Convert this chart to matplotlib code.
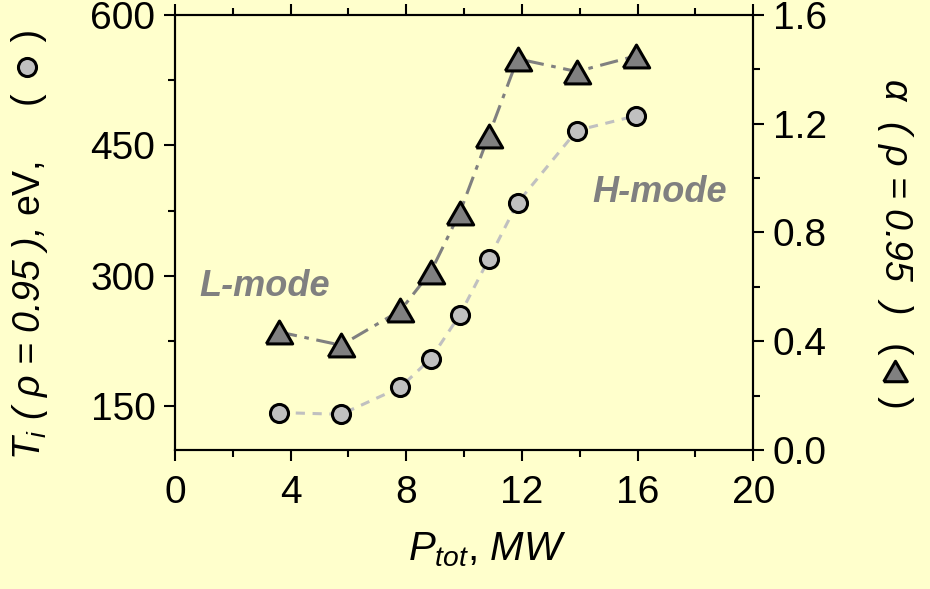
import numpy as np
import matplotlib
matplotlib.use("Agg")
import matplotlib.pyplot as plt
from matplotlib.ticker import MultipleLocator, FormatStrFormatter

plt.rcParams['font.family'] = ['Liberation Sans', 'DejaVu Sans']
plt.rcParams['mathtext.fontset'] = 'custom'
plt.rcParams['mathtext.rm'] = 'Liberation Sans'
plt.rcParams['mathtext.it'] = 'Liberation Sans:italic'
plt.rcParams['mathtext.bf'] = 'Liberation Sans:bold'

# heating power, MW
p_tot = [3.6, 5.75, 7.8, 8.85, 9.85, 10.85, 11.85, 13.9, 15.95]
# ion temperature at rho = 0.95, eV
t_i = [143, 141, 172, 205, 255, 319, 384, 467, 484]
# alpha at rho = 0.95
alpha = [0.434, 0.385, 0.513, 0.655, 0.872, 1.155, 1.438, 1.391, 1.449]

bg = '#ffffcc'
# equilateral triangle marker
tri = [(-1, -0.866), (1, -0.866), (0, 0.866), (-1, -0.866)]

fig = plt.figure(figsize=(9.3, 5.89), dpi=100, facecolor=bg)
ax = fig.add_axes([0.188, 0.236, 0.622, 0.739])
ax.set_facecolor(bg)
ax2 = ax.twinx()

ax.plot(p_tot, t_i, linestyle=(0, (3, 2.5)), color='#c0c0c0', lw=2.2,
        marker='o', ms=13, mfc='#c0c0c0', mec='black', mew=2.2, clip_on=False)
ax2.plot(p_tot, alpha, linestyle=(0, (6, 2.5, 1.5, 2.5)), color='#808080', lw=2.2,
         marker=tri, ms=19, mfc='#808080', mec='black', mew=2.2, clip_on=False)

ax.set_xlim(0, 20)
ax.set_ylim(100, 600)
ax2.set_ylim(0, 1.6)

ax.xaxis.set_major_locator(MultipleLocator(4))
ax.xaxis.set_minor_locator(MultipleLocator(2))
ax.yaxis.set_major_locator(MultipleLocator(150))
ax.yaxis.set_minor_locator(MultipleLocator(75))
ax2.yaxis.set_major_locator(MultipleLocator(0.4))
ax2.yaxis.set_minor_locator(MultipleLocator(0.2))
ax2.yaxis.set_major_formatter(FormatStrFormatter('%.1f'))

for a in (ax, ax2):
    for s in a.spines.values():
        s.set_linewidth(1.5)
ax.tick_params(which='both', direction='out', top=True, width=1.5,
               labelsize=28, pad=6)
ax.tick_params(axis='x', pad=10)
ax.tick_params(which='major', length=8)
ax.tick_params(which='minor', length=5)
ax2.tick_params(which='both', direction='out', width=1.5, labelsize=28, pad=6)
ax2.tick_params(which='major', length=8)
ax2.tick_params(which='minor', length=5)

ax.set_xlabel(r'$P_{tot}$, $MW$', fontsize=29, labelpad=14)
ax.xaxis.label.set_x(0.54)

ax.text(3.1, 288, 'L-mode', fontsize=26, fontweight='bold', style='italic',
        color='#808080', ha='center', va='center')
ax.text(16.75, 396, 'H-mode', fontsize=26, fontweight='bold', style='italic',
        color='#808080', ha='center', va='center')

# axis titles
fig.text(0.032, 0.219, r'$T_i$ ( $\rho$ = 0.95 ), $\mathrm{eV,}$', style='italic',
         rotation=90, fontsize=27, ha='center', va='bottom')
fig.text(0.962, 0.868, r'$\alpha$  ( $\rho$ = 0.95  )', style='italic',
         rotation=270, fontsize=27, ha='center', va='top')

# series symbols next to the titles
fig.text(0.031, 0.886, '(     )', rotation=90, fontsize=27, ha='center', va='center')
fig.text(0.962, 0.363, '(    )', rotation=270, fontsize=27, ha='center', va='center')
sym = fig.add_axes([0, 0, 1, 1], facecolor='none')
sym.set_axis_off()
sym.set_xlim(0, 1)
sym.set_ylim(0, 1)
sym.plot([0.029], [0.886], 'o', ms=13, mfc='#c0c0c0', mec='black', mew=2.2)
sym.plot([0.962], [0.37], marker=tri, ms=17, mfc='#808080', mec='black', mew=2.2)

fig.savefig('out.png', dpi=100, facecolor=bg)
